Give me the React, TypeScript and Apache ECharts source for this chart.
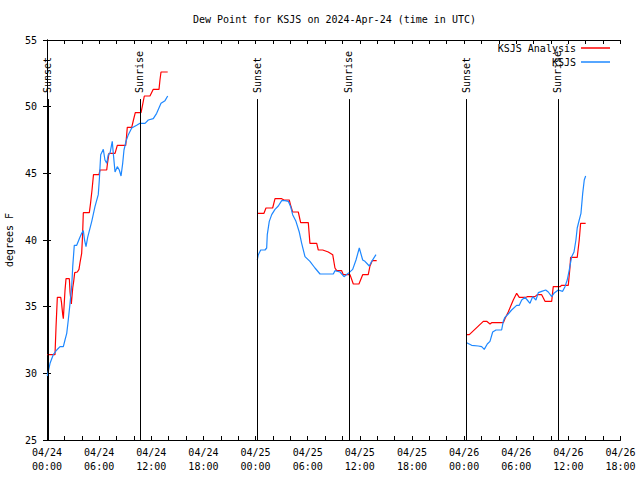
import React, { useEffect, useRef } from 'react';
import * as echarts from 'echarts';

const FONT = "'DejaVu Sans Mono', 'Liberation Mono', monospace";

// hours since 2024-04-24 00:00 UTC, dew point in degrees F
const analysisDay1: [number, number][] = [
  [0.03, 31.4], [0.92, 31.4], [1.04, 33.5], [1.19, 35.7], [1.58, 35.7], [1.67, 35.3], [1.81, 34.4],
  [1.88, 34.1], [1.96, 35.0], [2.07, 36.2], [2.19, 37.1], [2.57, 37.1], [2.65, 36.1], [2.8, 35.2],
  [2.96, 36.4], [3.07, 36.9], [3.19, 37.55], [3.49, 37.6], [3.68, 37.8], [3.8, 38.3], [3.99, 39.0],
  [4.09, 40.3], [4.18, 42.05], [4.87, 42.05], [5.01, 42.75], [5.18, 43.75], [5.35, 44.9], [5.98, 44.9],
  [6.1, 45.25], [6.87, 45.25], [6.96, 45.75], [7.13, 46.5], [7.83, 46.5], [8.09, 47.1], [9.06, 47.1],
  [9.15, 47.75], [9.24, 48.45], [9.75, 48.45], [9.95, 49.0], [10.16, 49.55], [10.82, 49.55],
  [10.99, 50.1], [11.2, 50.8], [11.85, 50.8], [12.23, 51.3], [12.89, 51.3], [13.0, 52.0],
  [13.12, 52.6], [13.89, 52.6],
];
const analysisDay2: [number, number][] = [
  [24.2, 42.0], [24.97, 42.0], [25.2, 42.4], [25.97, 42.4], [26.24, 43.1], [27.01, 43.1], [27.27, 43.0],
  [27.88, 43.0], [28.04, 42.6], [28.27, 42.1], [28.92, 42.1], [29.19, 41.3], [30.07, 41.3], [30.26, 39.75],
  [31.04, 39.75], [31.22, 39.25], [31.73, 39.25], [32.37, 39.1], [32.88, 38.9], [33.14, 37.9],
  [33.34, 37.7], [33.91, 37.7], [34.1, 37.4], [34.87, 37.4], [35.25, 36.7], [35.9, 36.7], [36.33, 37.4],
  [36.97, 37.4], [37.17, 38.05], [37.43, 38.45], [37.94, 38.45],
];
const analysisDay3: [number, number][] = [
  [48.3, 32.9], [48.6, 32.9], [50.21, 33.9], [50.6, 33.9], [50.98, 33.7], [51.17, 33.8], [52.51, 33.8],
  [52.7, 34.1], [53.08, 34.6], [53.66, 35.5], [54.05, 36.0], [54.35, 35.7], [55.12, 35.7], [55.27, 35.75],
  [56.16, 35.75], [56.42, 35.9], [56.93, 35.9], [57.31, 35.4], [58.08, 35.4], [58.26, 36.5], [59.04, 36.5],
  [59.23, 36.6], [59.99, 36.6], [60.18, 37.9], [60.26, 38.7], [61.02, 38.7], [61.25, 40.0], [61.41, 41.25],
  [61.99, 41.25],
];
const obsDay1: [number, number][] = [
  [0.03, 29.8], [0.35, 30.75], [0.72, 31.4], [1.12, 31.75], [1.5, 32.0], [1.88, 32.0], [2.07, 32.5],
  [2.27, 33.0], [2.45, 34.0], [2.65, 35.25], [2.84, 36.5], [2.96, 38.0], [3.14, 39.6], [3.42, 39.6],
  [3.72, 40.1], [3.99, 40.5], [4.18, 40.7], [4.32, 40.0], [4.49, 39.5], [4.68, 40.2], [5.15, 41.4],
  [5.52, 42.5], [5.9, 43.4], [6.02, 44.5], [6.18, 46.4], [6.48, 46.8], [6.67, 46.0], [6.87, 45.75],
  [7.05, 46.4], [7.25, 46.5], [7.51, 47.4], [7.63, 46.5], [7.83, 45.1], [8.09, 45.5], [8.32, 45.25],
  [8.52, 44.8], [8.71, 45.75], [8.86, 46.75], [9.09, 47.4], [9.36, 47.9], [9.75, 48.4], [10.32, 48.6],
  [10.7, 48.75], [11.28, 48.75], [11.66, 49.0], [12.23, 49.1], [12.62, 49.5], [13.12, 50.25],
  [13.58, 50.45], [13.89, 50.8],
];
const obsDay2: [number, number][] = [
  [24.2, 38.5], [24.32, 38.9], [24.59, 39.25], [25.09, 39.25], [25.28, 39.4], [25.35, 40.4], [25.58, 41.4],
  [25.86, 41.9], [26.24, 42.3], [26.62, 42.55], [27.01, 42.95], [27.39, 42.95], [27.77, 42.9],
  [28.04, 42.5], [28.27, 41.9], [28.65, 41.4], [29.03, 40.6], [29.31, 39.75], [29.69, 38.75],
  [30.26, 38.4], [30.84, 37.9], [31.42, 37.45], [32.95, 37.45], [33.14, 37.7], [33.72, 37.6],
  [34.18, 37.25], [34.67, 37.5], [35.18, 37.8], [35.56, 38.5], [35.94, 39.4], [36.33, 38.5],
  [36.59, 38.4], [37.09, 38.05], [37.37, 38.4], [37.86, 38.9],
];
const obsDay3: [number, number][] = [
  [48.3, 32.3], [48.87, 32.1], [49.63, 32.05], [50.02, 32.0], [50.32, 31.8], [50.67, 32.2], [50.98, 32.4],
  [51.29, 33.1], [51.67, 33.25], [52.32, 33.25], [52.51, 33.9], [52.7, 34.2], [53.08, 34.45],
  [53.47, 34.75], [54.05, 35.1], [54.35, 35.1], [54.63, 35.5], [55.01, 35.7], [55.27, 35.5],
  [55.58, 35.25], [55.89, 35.75], [56.27, 35.5], [56.54, 36.05], [56.93, 36.15], [57.39, 36.25],
  [57.69, 36.1], [58.08, 35.75], [58.34, 36.0], [58.84, 36.25], [59.34, 36.15], [59.61, 36.5],
  [59.87, 37.0], [60.1, 37.75], [60.38, 38.75], [60.65, 39.1], [60.87, 40.0], [61.02, 40.9],
  [61.25, 41.5], [61.45, 42.0], [61.65, 43.5], [61.83, 44.5], [61.99, 44.8],
];

const sunHours = [0.1, 10.7, 24.17, 34.75, 48.22, 58.8];
const sunLabels = ['Sunset', 'Sunrise', 'Sunset', 'Sunrise', 'Sunset', 'Sunrise'];

const xTickLabels = [
  '04/24\n00:00', '04/24\n06:00', '04/24\n12:00', '04/24\n18:00',
  '04/25\n00:00', '04/25\n06:00', '04/25\n12:00', '04/25\n18:00',
  '04/26\n00:00', '04/26\n06:00', '04/26\n12:00', '04/26\n18:00',
];

const seriesNames = ['KSJS Analysis', 'KSJS'];
const seriesColors = ['#ff0000', '#1e88ff'];

const Y_MIN = 25;
const Y_MAX = 55;
const X_MIN = 0;
const X_MAX = 66;
const SUN_LINE_TOP = 50.57;

function joinSegments(segs: [number, number][][]) {
  const out: any[] = [];
  segs.forEach((s, i) => {
    if (i > 0) out.push([s[0][0] - 0.5, '-']);
    s.forEach((p) => out.push(p));
  });
  return out;
}

export default function App() {
  const ref = useRef<HTMLDivElement>(null);
  useEffect(() => {
    const chart = echarts.init(ref.current!, null, { renderer: 'svg' });
    const tickStyle = { color: '#000', width: 1 };
    const option: any = {
      animation: false,
      backgroundColor: '#fff',
      title: {
        text: 'Dew Point for KSJS on 2024-Apr-24 (time in UTC)',
        left: 193,
        top: 14,
        padding: 0,
        textStyle: { fontFamily: FONT, fontSize: 10, fontWeight: 'normal', color: '#000' },
      },
      legend: {
        data: seriesNames.map((n) => ({ name: n, icon: 'rect' })),
        orient: 'vertical',
        right: 30,
        top: 41,
        align: 'right',
        itemWidth: 29,
        itemHeight: 1.5,
        itemGap: 0,
        padding: 0,
        textStyle: { fontFamily: FONT, fontSize: 10, lineHeight: 14, color: '#000' },
      },
      grid: {
        left: 47,
        right: 19.5,
        top: 40,
        bottom: 40,
        containLabel: false,
        outerBoundsMode: 'none',
      },
      xAxis: [
        {
          type: 'value',
          min: X_MIN,
          max: X_MAX,
          interval: 6,
          position: 'bottom',
          axisLine: { show: true, lineStyle: tickStyle },
          axisTick: { show: true, inside: true, length: 4, lineStyle: tickStyle },
          minorTick: { show: true, splitNumber: 3, length: 4, lineStyle: tickStyle },
          splitLine: { show: false },
          axisLabel: {
            margin: 5,
            fontFamily: FONT,
            fontSize: 10,
            lineHeight: 14,
            color: '#000',
            showMinLabel: true,
            showMaxLabel: true,
            hideOverlap: false,
            formatter: (v: number) => xTickLabels[Math.round(v / 6)] ?? '',
          },
        },
        {
          type: 'value',
          min: X_MIN,
          max: X_MAX,
          interval: 6,
          position: 'top',
          axisLine: { show: true, lineStyle: tickStyle },
          axisTick: { show: true, inside: true, length: 4, lineStyle: tickStyle },
          minorTick: { show: true, splitNumber: 3, length: 4, lineStyle: tickStyle },
          splitLine: { show: false },
          axisLabel: { show: false },
        },
      ],
      yAxis: [
        {
          type: 'value',
          min: Y_MIN,
          max: Y_MAX,
          interval: 5,
          position: 'left',
          name: 'degrees F',
          nameLocation: 'middle',
          nameRotate: 90,
          nameGap: 32,
          nameTextStyle: { fontFamily: FONT, fontSize: 10, color: '#000' },
          axisLine: { show: true, lineStyle: tickStyle },
          axisTick: { show: true, inside: true, length: 4, lineStyle: tickStyle },
          splitLine: { show: false },
          axisLabel: { margin: 10, fontFamily: FONT, fontSize: 10, color: '#000' },
        },
        {
          type: 'value',
          min: Y_MIN,
          max: Y_MAX,
          interval: 5,
          position: 'right',
          axisLine: { show: true, lineStyle: tickStyle },
          axisTick: { show: true, inside: true, length: 4, lineStyle: tickStyle },
          splitLine: { show: false },
          axisLabel: { show: false },
        },
      ],
      series: [
        {
          name: 'sun',
          type: 'line',
          data: [],
          silent: true,
          markLine: {
            silent: true,
            symbol: ['none', 'none'],
            label: { show: false },
            lineStyle: { color: '#000', width: 1, type: 'solid' },
            data: sunHours.map((h) => [{ coord: [h, Y_MIN] }, { coord: [h, SUN_LINE_TOP] }]),
          },
        },
        {
          name: seriesNames[0],
          type: 'line',
          data: joinSegments([analysisDay1, analysisDay2, analysisDay3]),
          showSymbol: false,
          symbol: 'none',
          connectNulls: false,
          color: seriesColors[0],
          lineStyle: { color: seriesColors[0], width: 1.2 },
        },
        {
          name: seriesNames[1],
          type: 'line',
          data: joinSegments([obsDay1, obsDay2, obsDay3]),
          showSymbol: false,
          symbol: 'none',
          connectNulls: false,
          color: seriesColors[1],
          lineStyle: { color: seriesColors[1], width: 1.2 },
        },
      ],
    };
    chart.setOption(option);
    const graphics = sunHours.map((h, i) => {
      const x = chart.convertToPixel({ xAxisIndex: 0 }, h) as number;
      return {
        type: 'text',
        x,
        y: 93,
        rotation: Math.PI / 2,
        silent: true,
        style: {
          text: sunLabels[i],
          font: `10px ${FONT}`,
          fill: '#000',
          align: 'left',
          verticalAlign: 'middle',
        },
      };
    });
    chart.setOption({ graphic: graphics });
    return () => chart.dispose();
  }, []);
  return (
    <div
      ref={ref}
      style={{ position: 'fixed', left: 0, top: 0, width: 640, height: 480 }}
    />
  );
}
